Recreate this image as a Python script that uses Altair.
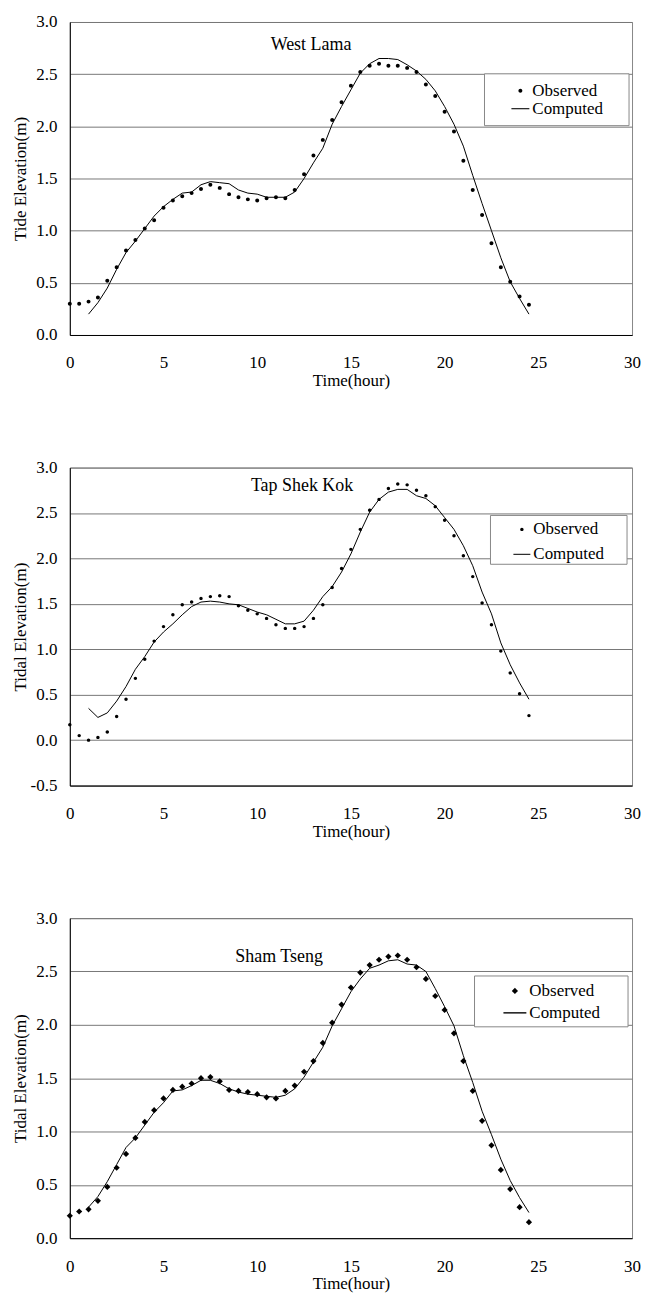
import altair as alt
import pandas as pd

# Time axis (hours) for observed samples and computed series
hours_obs = [0.0, 0.5, 1.0, 1.5, 2.0, 2.5, 3.0, 3.5, 4.0, 4.5,
             5.0, 5.5, 6.0, 6.5, 7.0, 7.5, 8.0, 8.5, 9.0, 9.5,
             10.0, 10.5, 11.0, 11.5, 12.0, 12.5, 13.0, 13.5, 14.0, 14.5,
             15.0, 15.5, 16.0, 16.5, 17.0, 17.5, 18.0, 18.5, 19.0, 19.5,
             20.0, 20.5, 21.0, 21.5, 22.0, 22.5, 23.0, 23.5, 24.0, 24.5]
hours_comp = [1.0, 1.5, 2.0, 2.5, 3.0, 3.5, 4.0, 4.5,
              5.0, 5.5, 6.0, 6.5, 7.0, 7.5, 8.0, 8.5, 9.0, 9.5,
              10.0, 10.5, 11.0, 11.5, 12.0, 12.5, 13.0, 13.5, 14.0, 14.5,
              15.0, 15.5, 16.0, 16.5, 17.0, 17.5, 18.0, 18.5, 19.0, 19.5,
              20.0, 20.5, 21.0, 21.5, 22.0, 22.5, 23.0, 23.5, 24.0, 24.5]

# West Lama
west_lama_obs = [0.30, 0.30, 0.32, 0.36, 0.52, 0.65, 0.81, 0.91, 1.02, 1.10,
                 1.22, 1.29, 1.33, 1.36, 1.40, 1.44, 1.41, 1.35, 1.32, 1.30,
                 1.29, 1.31, 1.32, 1.31, 1.39, 1.54, 1.72, 1.87, 2.06, 2.23,
                 2.39, 2.52, 2.58, 2.60, 2.58, 2.58, 2.56, 2.52, 2.40, 2.29,
                 2.14, 1.95, 1.67, 1.39, 1.15, 0.88, 0.65, 0.51, 0.37, 0.29]
west_lama_comp = [0.20, 0.31, 0.45, 0.63, 0.79, 0.90, 1.02, 1.14, 1.23, 1.30,
                  1.36, 1.37, 1.44, 1.47, 1.46, 1.45, 1.39, 1.36, 1.35, 1.32,
                  1.32, 1.32, 1.37, 1.50, 1.65, 1.79, 2.02, 2.19, 2.35, 2.51,
                  2.60, 2.65, 2.65, 2.64, 2.59, 2.53, 2.45, 2.34, 2.19, 2.02,
                  1.81, 1.53, 1.26, 1.00, 0.74, 0.51, 0.35, 0.20]

# Tap Shek Kok
tap_shek_kok_obs = [0.17, 0.05, 0.00, 0.03, 0.09, 0.26, 0.45, 0.68, 0.89, 1.09,
                    1.25, 1.38, 1.49, 1.52, 1.56, 1.58, 1.59, 1.58, 1.48, 1.43,
                    1.39, 1.34, 1.27, 1.23, 1.23, 1.25, 1.34, 1.49, 1.68, 1.89,
                    2.10, 2.32, 2.53, 2.65, 2.77, 2.82, 2.81, 2.75, 2.69, 2.57,
                    2.42, 2.25, 2.03, 1.80, 1.51, 1.27, 0.98, 0.74, 0.51, 0.27]
tap_shek_kok_comp = [0.35, 0.25, 0.30, 0.43, 0.59, 0.78, 0.92, 1.08, 1.19, 1.28,
                     1.38, 1.47, 1.52, 1.53, 1.52, 1.50, 1.49, 1.45, 1.41, 1.38,
                     1.33, 1.28, 1.28, 1.31, 1.43, 1.58, 1.69, 1.85, 2.05, 2.29,
                     2.51, 2.65, 2.73, 2.76, 2.76, 2.69, 2.66, 2.58, 2.45, 2.32,
                     2.14, 1.92, 1.63, 1.39, 1.07, 0.83, 0.63, 0.45]

# Sham Tseng
sham_tseng_obs = [0.21, 0.25, 0.27, 0.35, 0.48, 0.66, 0.79, 0.94, 1.09, 1.20,
                  1.31, 1.39, 1.42, 1.45, 1.50, 1.51, 1.47, 1.39, 1.38, 1.37,
                  1.35, 1.32, 1.31, 1.38, 1.43, 1.56, 1.66, 1.83, 2.02, 2.19,
                  2.35, 2.49, 2.56, 2.61, 2.64, 2.65, 2.61, 2.54, 2.43, 2.27,
                  2.14, 1.92, 1.66, 1.38, 1.10, 0.87, 0.64, 0.46, 0.29, 0.15]
sham_tseng_comp = [0.29, 0.39, 0.53, 0.69, 0.85, 0.94, 1.06, 1.18, 1.27, 1.38,
                   1.39, 1.43, 1.48, 1.48, 1.45, 1.40, 1.37, 1.35, 1.34, 1.33,
                   1.32, 1.34, 1.40, 1.51, 1.65, 1.79, 1.99, 2.15, 2.31, 2.43,
                   2.53, 2.56, 2.60, 2.61, 2.57, 2.56, 2.50, 2.34, 2.17, 1.99,
                   1.71, 1.46, 1.19, 0.97, 0.74, 0.54, 0.38, 0.24]

x_ticks = [0, 5, 10, 15, 20, 25, 30]
y_ticks_a = [0.0, 0.5, 1.0, 1.5, 2.0, 2.5, 3.0]
y_ticks_b = [-0.5, 0.0, 0.5, 1.0, 1.5, 2.0, 2.5, 3.0]
series_names = ["Observed", "Computed"]

FONT = "Liberation Serif"
PLOT_W = 564

# symbol paths in unit space [-1, 1]
DOT = "M0.22,0A0.22,0.22,0,1,1,-0.22,0A0.22,0.22,0,1,1,0.22,0Z"
DOT_B = "M0.2,0A0.2,0.2,0,1,1,-0.2,0A0.2,0.2,0,1,1,0.2,0Z"
DIAMOND = "M0,-0.27L0.27,0L0,0.27L-0.27,0Z"
DASH = "M-1,-0.06L1,-0.06L1,0.06L-1,0.06Z"


def panel(station, obs, comp, ytitle, yticks, height, marker, sym_len,
          lx, ly, row_pad, box, text_x, text_y):
    obs_df = pd.DataFrame({"t": hours_obs, "elev": obs, "series": "Observed"})
    comp_df = pd.DataFrame({"t": hours_comp, "elev": comp, "series": "Computed"})
    x = alt.X("t:Q", scale=alt.Scale(domain=[0, 30], nice=False),
              axis=alt.Axis(values=x_ticks, title="Time(hour)", grid=False,
                            ticks=False, tickSize=0, labelPadding=20,
                            titlePadding=2, labelFlush=False,
                            domainColor="black", labelAngle=0))
    y = alt.Y("elev:Q", scale=alt.Scale(domain=[yticks[0], 3.0], nice=False, zero=False),
              axis=alt.Axis(values=yticks, title=ytitle,
                            labelExpr="replace(format(datum.value, '.1f'), '\u2212', '-')",
                            ticks=False, tickSize=0, labelPadding=13,
                            titlePadding=0, minExtent=40, maxExtent=40,
                            grid=True, gridColor="#777", gridWidth=1,
                            domainColor="black"))
    leg = alt.Legend(orient="none", legendX=lx, legendY=ly, title=None,
                     labelFont=FONT, labelFontSize=17, labelColor="black",
                     padding=0, rowPadding=row_pad, symbolOffset=0,
                     labelOffset=3, strokeColor="transparent",
                     symbolSize=sym_len ** 2, symbolFillColor="black",
                     symbolStrokeWidth=0)
    line = alt.Chart(comp_df).mark_line(color="black", strokeWidth=1).encode(x=x, y=y)
    pts = alt.Chart(obs_df).mark_point(filled=True, color="black", opacity=1,
                                       size=sym_len ** 2).encode(
        x=x, y=y,
        shape=alt.Shape("series:N",
                        scale=alt.Scale(domain=series_names, range=[marker, DASH]),
                        legend=leg),
    )
    info = pd.DataFrame({"station": [station]})
    frame = alt.Chart(info).mark_rect(fill="white", stroke="#888", strokeWidth=1).encode(
        x=alt.value(box[0]), x2=alt.value(box[1]),
        y=alt.value(box[2]), y2=alt.value(box[3]))
    label = alt.Chart(info).mark_text(
        font=FONT, fontSize=18, color="black", align="center", baseline="middle"
    ).encode(x=alt.value(text_x), y=alt.value(text_y), text="station:N")
    return alt.layer(line, pts, frame, label).properties(width=PLOT_W, height=height)


p1 = panel("West Lama", west_lama_obs, west_lama_comp, "Tide Elevation(m)",
           y_ticks_a, 314, DOT, 18, 443, 60, 1, (416, 561, 52, 104), 242, 23)
p2 = panel("Tap Shek Kok", tap_shek_kok_obs, tap_shek_kok_comp, "Tidal Elevation(m)",
           y_ticks_b, 319, DOT_B, 17, 445, 53.5, 7, (422, 559, 48, 97), 233, 18)
p3 = panel("Sham Tseng", sham_tseng_obs, sham_tseng_comp, "Tidal Elevation(m)",
           y_ticks_a, 321, DIAMOND, 23, 435, 61.5, 2, (406, 560, 58, 109), 210, 39)

chart = alt.vconcat(p1, p2, p3, spacing=68).resolve_scale(
    shape="independent"
).resolve_legend(
    shape="independent"
).properties(
    padding={"left": 3, "top": 2, "right": 0, "bottom": 0}
).configure_view(
    stroke="#888", strokeWidth=1
).configure_axis(
    labelFont=FONT, titleFont=FONT, labelFontSize=17, titleFontSize=17,
    titleFontWeight="normal", labelColor="black", titleColor="black"
)

chart.save("out.html", embed_options={"renderer": "svg", "actions": False})
